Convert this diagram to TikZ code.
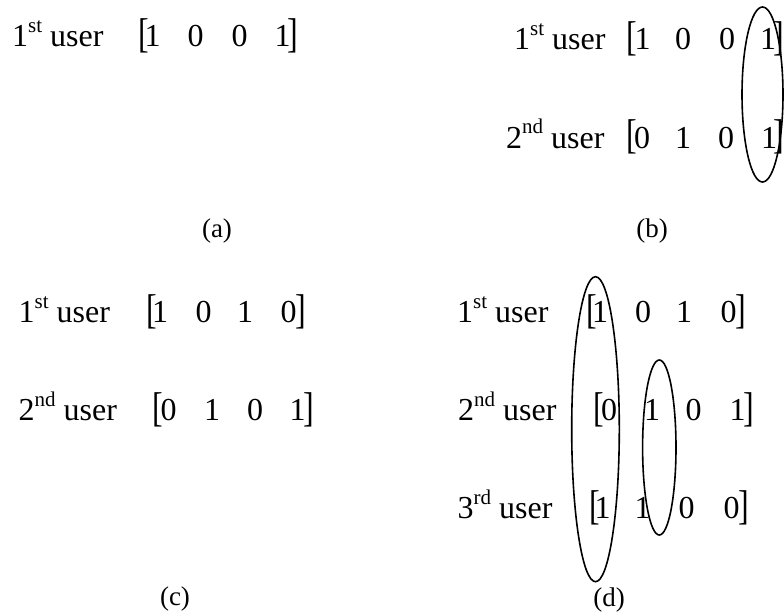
\documentclass[tikz,border=0pt]{standalone}
\usepackage{fontspec}
\usepackage{graphicx}
\setmainfont{Liberation Serif}
\usetikzlibrary{shapes.geometric}
\newcommand{\lbr}{\raisebox{-1pt}{\scalebox{1}[1.3]{[}}}
\newcommand{\rbr}{\raisebox{-1pt}{\scalebox{1}[1.3]{]}}}
\newcommand{\ulab}[2]{#1\raisebox{14pt}{\fontsize{21}{21}\selectfont #2} user}
\begin{document}
\begin{tikzpicture}[x=1pt,y=-1pt,
  txt/.style={font=\fontsize{32}{38}\selectfont, inner sep=0pt, anchor=base},
  lab/.style={txt, anchor=base west},
  captxt/.style={font=\fontsize{27}{31}\selectfont, inner sep=0pt},
  ell/.style={draw, ellipse, line width=1.6pt, inner sep=0pt}]
\useasboundingbox (0,0) rectangle (784,615);
% (a)
\node[lab] (a-lab) at (12,47) {\ulab{1}{st}};
\foreach \x/\g [count=\i] in {143.5/\lbr,152.5/1,195.5/0,239.5/0,282.5/1,292.5/\rbr}
  \node[txt] (a-\i) at (\x,47) {\g};
\node[captxt] (capa) at (217,231) {(a)};
% (b)
\node[lab] (b1-lab) at (514,50) {\ulab{1}{st}};
\foreach \x/\g [count=\i] in {631.5/\lbr,642.5/1,683/0,727/0,768/1,779/\rbr}
  \node[txt] (b1-\i) at (\x,50) {\g};
\node[lab] (b2-lab) at (506,148) {\ulab{2}{nd}};
\foreach \x/\g [count=\i] in {631.5/\lbr,642/0,683/1,726/0,769/1,779/\rbr}
  \node[txt] (b2-\i) at (\x,148) {\g};
\node[ell, minimum width=41pt, minimum height=175pt] (eb) at (762.5,94.5) {};
\node[captxt] (capb) at (652,231) {(b)};
% (c)
\node[lab] (c1-lab) at (18.5,322) {\ulab{1}{st}};
\foreach \x/\g [count=\i] in {151.5/\lbr,160/1,203.5/0,245/1,288.5/0,301/\rbr}
  \node[txt] (c1-\i) at (\x,322) {\g};
\node[lab] (c2-lab) at (18.5,420) {\ulab{2}{nd}};
\foreach \x/\g [count=\i] in {158/\lbr,168.5/0,212/1,255/0,297.5/1,309/\rbr}
  \node[txt] (c2-\i) at (\x,420) {\g};
\node[captxt] (capc) at (175,599) {(c)};
% (d)
\node[lab] (d1-lab) at (457,322) {\ulab{1}{st}};
\foreach \x/\g [count=\i] in {591.5/\lbr,600/1,643/0,684/1,728.5/0,741/\rbr}
  \node[txt] (d1-\i) at (\x,322) {\g};
\node[lab] (d2-lab) at (458,420) {\ulab{2}{nd}};
\foreach \x/\g [count=\i] in {598.5/\lbr,609/0,652/1,693.5/0,737.5/1,749/\rbr}
  \node[txt] (d2-\i) at (\x,420) {\g};
\node[lab] (d3-lab) at (457.5,518) {\ulab{3}{rd}};
\foreach \x/\g [count=\i] in {595/\lbr,602.5/1,642.5/1,686.5/0,731.5/0,744/\rbr}
  \node[txt] (d3-\i) at (\x,518) {\g};
\node[ell, minimum width=47.6pt, minimum height=305pt] (ed1) at (595.5,429.2) {};
\node[ell, minimum width=33.4pt, minimum height=175pt] (ed2) at (659.3,447.5) {};
\node[captxt] (capd) at (609,600) {(d)};
\end{tikzpicture}
\end{document}
